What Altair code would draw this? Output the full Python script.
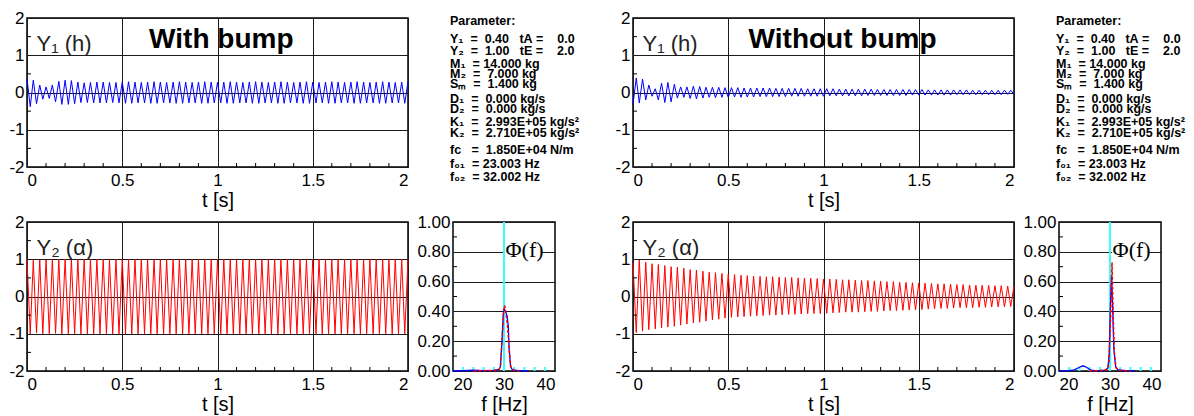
import altair as alt
import pandas as pd

FONT = "Liberation Sans"

# ---------------- data ----------------
# time of each half-oscillation extremum [s]
T = [0.000, 0.017, 0.033, 0.050, 0.067, 0.083,
     0.100, 0.117, 0.133, 0.150, 0.167, 0.183,
     0.200, 0.217, 0.233, 0.250, 0.267, 0.283,
     0.300, 0.317, 0.333, 0.350, 0.367, 0.383,
     0.400, 0.417, 0.433, 0.450, 0.467, 0.483,
     0.500, 0.517, 0.533, 0.550, 0.567, 0.583,
     0.600, 0.617, 0.633, 0.650, 0.667, 0.683,
     0.700, 0.717, 0.733, 0.750, 0.767, 0.783,
     0.800, 0.817, 0.833, 0.850, 0.867, 0.883,
     0.900, 0.917, 0.933, 0.950, 0.967, 0.983,
     1.000, 1.017, 1.033, 1.050, 1.067, 1.083,
     1.100, 1.117, 1.133, 1.150, 1.167, 1.183,
     1.200, 1.217, 1.233, 1.250, 1.267, 1.283,
     1.300, 1.317, 1.333, 1.350, 1.367, 1.383,
     1.400, 1.417, 1.433, 1.450, 1.467, 1.483,
     1.500, 1.517, 1.533, 1.550, 1.567, 1.583,
     1.600, 1.617, 1.633, 1.650, 1.667, 1.683,
     1.700, 1.717, 1.733, 1.750, 1.767, 1.783,
     1.800, 1.817, 1.833, 1.850, 1.867, 1.883,
     1.900, 1.917, 1.933, 1.950, 1.967, 1.983,
     2.000]

Y1_BUMP = [0.37, -0.38, 0.33, -0.30, 0.20, -0.18,
           0.15, -0.16, 0.20, -0.25, 0.30, -0.32,
           0.33, -0.32, 0.32, -0.30, 0.28, -0.27,
           0.26, -0.27, 0.27, -0.28, 0.28, -0.28,
           0.28, -0.28, 0.27, -0.27, 0.27, -0.28,
           0.28, -0.29, 0.29, -0.29, 0.28, -0.28,
           0.27, -0.28, 0.28, -0.29, 0.29, -0.29,
           0.28, -0.28, 0.27, -0.28, 0.28, -0.29,
           0.29, -0.29, 0.28, -0.28, 0.27, -0.28,
           0.28, -0.29, 0.29, -0.29, 0.28, -0.28,
           0.27, -0.28, 0.28, -0.29, 0.29, -0.29,
           0.28, -0.28, 0.27, -0.28, 0.28, -0.29,
           0.29, -0.29, 0.28, -0.28, 0.27, -0.28,
           0.28, -0.29, 0.29, -0.29, 0.28, -0.28,
           0.27, -0.28, 0.28, -0.29, 0.29, -0.29,
           0.28, -0.28, 0.27, -0.28, 0.28, -0.29,
           0.29, -0.29, 0.28, -0.28, 0.27, -0.28,
           0.28, -0.29, 0.29, -0.29, 0.28, -0.28,
           0.27, -0.28, 0.28, -0.29, 0.29, -0.29,
           0.28, -0.28, 0.27, -0.28, 0.28, -0.29,
           0.29]

Y2_BUMP = [1.00, -1.00, 0.97, -0.98, 0.99, -1.00,
           0.98, -1.00, 1.00, -0.99, 1.00, -1.00,
           1.00, -1.00, 1.00, -1.00, 1.00, -1.00,
           1.00, -1.00, 1.00, -1.00, 1.00, -1.00,
           1.00, -1.00, 1.00, -1.00, 1.00, -1.00,
           1.00, -1.00, 1.00, -1.00, 1.00, -1.00,
           1.00, -1.00, 1.00, -1.00, 1.00, -1.00,
           1.00, -1.00, 1.00, -1.00, 1.00, -1.00,
           1.00, -1.00, 1.00, -1.00, 1.00, -1.00,
           1.00, -1.00, 1.00, -1.00, 1.00, -1.00,
           1.00, -1.00, 1.00, -1.00, 1.00, -1.00,
           1.00, -1.00, 1.00, -1.00, 1.00, -1.00,
           1.00, -1.00, 1.00, -1.00, 1.00, -1.00,
           1.00, -1.00, 1.00, -1.00, 1.00, -1.00,
           1.00, -1.00, 1.00, -1.00, 1.00, -1.00,
           1.00, -1.00, 1.00, -1.00, 1.00, -1.00,
           1.00, -1.00, 1.00, -1.00, 1.00, -1.00,
           1.00, -1.00, 1.00, -1.00, 1.00, -1.00,
           1.00, -1.00, 1.00, -1.00, 1.00, -1.00,
           1.00, -1.00, 1.00, -1.00, 1.00, -1.00,
           1.00]

Y1_FREE = [-0.32, 0.39, -0.28, 0.36, -0.20, 0.20,
           -0.10, 0.10, -0.20, 0.25, -0.27, 0.27,
           -0.25, 0.22, -0.15, 0.15, -0.13, 0.15,
           -0.16, 0.17, -0.17, 0.16, -0.15, 0.14,
           -0.13, 0.14, -0.14, 0.14, -0.13, 0.13,
           -0.13, 0.13, -0.12, 0.13, -0.13, 0.12,
           -0.12, 0.12, -0.12, 0.12, -0.11, 0.12,
           -0.11, 0.12, -0.11, 0.11, -0.11, 0.11,
           -0.11, 0.11, -0.10, 0.11, -0.10, 0.11,
           -0.10, 0.10, -0.10, 0.10, -0.10, 0.10,
           -0.10, 0.10, -0.09, 0.10, -0.09, 0.09,
           -0.09, 0.09, -0.09, 0.09, -0.09, 0.09,
           -0.09, 0.09, -0.08, 0.09, -0.08, 0.08,
           -0.08, 0.08, -0.08, 0.08, -0.08, 0.08,
           -0.08, 0.08, -0.08, 0.08, -0.07, 0.08,
           -0.07, 0.08, -0.07, 0.07, -0.07, 0.07,
           -0.07, 0.07, -0.07, 0.07, -0.07, 0.07,
           -0.06, 0.07, -0.06, 0.07, -0.06, 0.06,
           -0.06, 0.06, -0.06, 0.06, -0.06, 0.06,
           -0.06, 0.06, -0.06, 0.06, -0.05, 0.06,
           -0.05]

Y2_FREE = [0.90, -0.97, 0.98, -0.93, 0.92, -0.89,
           0.88, -0.87, 0.86, -0.84, 0.83, -0.82,
           0.80, -0.80, 0.79, -0.77, 0.76, -0.74,
           0.72, -0.71, 0.71, -0.69, 0.68, -0.66,
           0.65, -0.63, 0.64, -0.61, 0.62, -0.58,
           0.60, -0.56, 0.59, -0.55, 0.57, -0.54,
           0.56, -0.53, 0.55, -0.52, 0.54, -0.51,
           0.53, -0.50, 0.53, -0.50, 0.52, -0.49,
           0.51, -0.48, 0.51, -0.48, 0.50, -0.47,
           0.49, -0.46, 0.49, -0.46, 0.48, -0.46,
           0.47, -0.45, 0.47, -0.44, 0.46, -0.43,
           0.45, -0.42, 0.45, -0.42, 0.44, -0.42,
           0.43, -0.41, 0.43, -0.40, 0.42, -0.40,
           0.41, -0.39, 0.40, -0.38, 0.40, -0.38,
           0.38, -0.37, 0.38, -0.36, 0.37, -0.36,
           0.36, -0.35, 0.36, -0.34, 0.35, -0.33,
           0.34, -0.32, 0.34, -0.32, 0.33, -0.31,
           0.32, -0.30, 0.32, -0.30, 0.31, -0.30,
           0.30, -0.29, 0.30, -0.29, 0.30, -0.28,
           0.29, -0.28, 0.29, -0.28, 0.28, -0.27,
           0.28]

# spectra
F_BUMP_BLUE = [20, 22, 24, 26, 28, 29, 29.3, 29.6, 29.85, 30.05, 30.3, 30.6, 30.85, 31.0, 31.3, 31.6, 32, 33, 34.6]
P_BUMP_BLUE = [0.0, 0.003, 0.005, 0.003, 0.004, 0.01, 0.03, 0.2, 0.38, 0.42, 0.40, 0.37, 0.30, 0.15, 0.03, 0.01, 0.005, 0.003, 0.0]
F_BUMP_RED = [24, 26, 28, 29, 29.3, 29.65, 29.95, 30.15, 30.4, 30.7, 31.0, 31.3, 32, 33]
P_BUMP_RED = [0.0, 0.002, 0.004, 0.01, 0.03, 0.22, 0.41, 0.44, 0.38, 0.30, 0.15, 0.03, 0.005, 0.0]

F_FREE_BLUE = [20, 22, 23, 24, 24.7, 25.4, 26.3, 27, 28, 29, 29.6, 29.85, 30.05, 30.3, 30.5, 30.75, 31.1, 31.5, 32, 33, 34.8]
P_FREE_BLUE = [0.0, 0.003, 0.008, 0.025, 0.035, 0.025, 0.005, 0.002, 0.003, 0.005, 0.02, 0.12, 0.40, 0.64, 0.45, 0.15, 0.03, 0.01, 0.005, 0.003, 0.0]
F_FREE_RED = [26, 28, 29.5, 29.8, 30.1, 30.4, 30.6, 30.85, 31.2, 32, 34]
P_FREE_RED = [0.0, 0.003, 0.01, 0.06, 0.35, 0.73, 0.40, 0.12, 0.02, 0.005, 0.0]

F_MARK = [30]
F_SMALL_TICKS = [22, 24, 26, 28, 32, 34, 36, 38]

T_TICKS = [0, 0.5, 1, 1.5, 2]
T_MINOR = [0.1, 0.2, 0.3, 0.4, 0.6, 0.7, 0.8, 0.9, 1.1, 1.2, 1.3, 1.4, 1.6, 1.7, 1.8, 1.9]
Y_TICKS = [-2, -1, 0, 1, 2]
Y_MINOR = [-1.5, -0.5, 0.5, 1.5]
P_TICKS = [0, 0.2, 0.4, 0.6, 0.8, 1.0]
P_MINOR = [0.1, 0.3, 0.5, 0.7, 0.9]
F_TICKS = [20, 30, 40]

PARAM_LINES = [
    "Parameter:",
    "Y₁  =  0.40   tA =    0.0",
    "Y₂  =  1.00   tE =    2.0",
    "M₁  = 14.000 kg",
    "M₂  =  7.000 kg",
    "Sₘ  =  1.400 kg",
    "D₁  =  0.000 kg/s",
    "D₂  =  0.000 kg/s",
    "K₁  =  2.993E+05 kg/s²",
    "K₂  =  2.710E+05 kg/s²",
    "fc   =  1.850E+04 N/m",
    "f₀₁  = 23.003 Hz",
    "f₀₂  = 32.002 Hz",
]
PARAM_YOFF = [3, 21, 33, 46, 56, 66, 81, 91, 104, 115, 132, 146, 159]

# ---------------- layout ----------------
W, H = 381, 149
SW = 102
BLACK = "#000000"
PLAIN = "'' + datum.value"


def time_panel(vals, color, label, title=None, title_t=1.0):
    df = pd.DataFrame({"t": T, "y": vals})
    xs = alt.X("t:Q", scale=alt.Scale(domain=[0, 2], nice=False, zero=False),
               axis=alt.Axis(values=T_TICKS, labelExpr=PLAIN, title="t [s]", grid=True,
                             labelPadding=5, titlePadding=2, labelOverlap=False))
    ys = alt.Y("y:Q", scale=alt.Scale(domain=[-2, 2], nice=False, zero=False),
               axis=alt.Axis(values=Y_TICKS, labelExpr=PLAIN, title=None, grid=True, labelPadding=3,
                             labelOverlap=False))
    line = alt.Chart(df).mark_line(color=color, strokeWidth=1).encode(x=xs, y=ys)
    tx = alt.Chart(pd.DataFrame({"t": T_MINOR})).mark_rule(color=BLACK, strokeWidth=1).encode(
        x=xs, y=alt.value(H), y2=alt.value(H - 4))
    ty = alt.Chart(pd.DataFrame({"y": Y_MINOR})).mark_rule(color=BLACK, strokeWidth=1).encode(
        y=ys, x=alt.value(0), x2=alt.value(4))
    lab = alt.Chart(pd.DataFrame({"t": [0.05], "y": [1.12], "s": [label]})).mark_text(
        align="left", baseline="alphabetic", fontSize=22, font=FONT, color="#222222").encode(
        x=xs, y=ys, text="s:N")
    layers = [line, tx, ty, lab]
    if title:
        ttl = alt.Chart(pd.DataFrame({"t": [title_t], "y": [1.2], "s": [title]})).mark_text(
            align="center", baseline="alphabetic", fontSize=28, fontWeight="bold",
            font=FONT, color=BLACK).encode(x=xs, y=ys, text="s:N")
        layers.append(ttl)
    return alt.layer(*layers).properties(width=W, height=H)


def spec_panel(fb, pb, fr, pr, phi_f):
    xs = lambda fld: alt.X(fld, scale=alt.Scale(domain=[20, 40], nice=False, zero=False),
                           axis=alt.Axis(values=F_TICKS, format="d", title="f  [Hz]", grid=False,
                                         labelPadding=5, titlePadding=2, labelOverlap=False))
    ys = lambda fld: alt.Y(fld, scale=alt.Scale(domain=[0, 1], nice=False, zero=False),
                           axis=alt.Axis(values=P_TICKS, format=".2f", title=None, grid=True,
                                         labelPadding=3, labelOverlap=False))
    cyan = alt.Chart(pd.DataFrame({"f": F_MARK})).mark_rule(color="#33ffff", strokeWidth=2).encode(x=xs("f:Q"))
    cticks = alt.Chart(pd.DataFrame({"f": F_SMALL_TICKS})).mark_rule(color="#33ffff", strokeWidth=2).encode(
        x=xs("f:Q"), y=alt.value(H), y2=alt.value(H - 4))
    mticks = alt.Chart(pd.DataFrame({"p": P_MINOR})).mark_rule(color=BLACK, strokeWidth=1).encode(
        y=ys("p:Q"), x=alt.value(0), x2=alt.value(4))
    blue = alt.Chart(pd.DataFrame({"f": fb, "p": pb})).mark_line(color="#0000ff", strokeWidth=1.3).encode(
        x=xs("f:Q"), y=ys("p:Q"))
    red = alt.Chart(pd.DataFrame({"f": fr, "p": pr})).mark_line(
        color="#ff0000", strokeWidth=1.5, strokeDash=[3, 2]).encode(x=xs("f:Q"), y=ys("p:Q"))
    box = alt.Chart(pd.DataFrame({"f": [phi_f - 0.1], "f2": [phi_f + 6.9], "p": [0.74], "p2": [0.89]})).mark_rect(
        color="white").encode(x=xs("f:Q"), x2="f2:Q", y=ys("p:Q"), y2="p2:Q")
    phi = alt.Chart(pd.DataFrame({"f": [phi_f], "p": [0.81], "s": ["Φ(f)"]})).mark_text(
        align="left", baseline="middle", fontSize=22, font="Liberation Serif", color=BLACK).encode(
        x=xs("f:Q"), y=ys("p:Q"), text="s:N")
    return alt.layer(cyan, cticks, mticks, blue, red, box, phi).properties(width=SW, height=H)


def param_panel():
    layers = []
    for line, off in zip(PARAM_LINES, PARAM_YOFF):
        txt = line.replace(" ", "\u00a0")
        layers.append(
            alt.Chart(pd.DataFrame({"s": [txt]})).mark_text(
                align="left", baseline="middle", fontSize=12.5, fontWeight="bold",
                font=FONT, color=BLACK).encode(x=alt.value(-3), y=alt.value(off), text="s:N"))
    return alt.layer(*layers).properties(width=SW, height=H,
                                         view=alt.ViewBackground(stroke="transparent"))


def spacer(w):
    return alt.Chart(pd.DataFrame({"a": [0]})).mark_point(opacity=0).encode(
        x=alt.value(0), y=alt.value(0)).properties(
        width=w, height=H, view=alt.ViewBackground(stroke="transparent"))


spec_l = spec_panel(F_BUMP_BLUE, P_BUMP_BLUE, F_BUMP_RED, P_BUMP_RED, 30.3)
spec_r = spec_panel(F_FREE_BLUE, P_FREE_BLUE, F_FREE_RED, P_FREE_RED, 30.5)

cells = [
    time_panel(Y1_BUMP, "#0000ff", "Y₁ (h)", "With bump", 1.02), spacer(45), param_panel(), spacer(78),
    time_panel(Y1_FREE, "#0000ff", "Y₁ (h)", "Without bump", 1.10), spacer(45), param_panel(),
    time_panel(Y2_BUMP, "#ff0000", "Y₂ (α)"), spacer(45), spec_l, spacer(78),
    time_panel(Y2_FREE, "#ff0000", "Y₂ (α)"), spacer(45), spec_r,
]

chart = alt.concat(*cells, columns=7, spacing={"row": 55, "column": 0}, bounds="flush").properties(
    padding={"left": 8, "top": 8, "right": 2, "bottom": 2}
).configure_view(stroke=BLACK, strokeWidth=1.5).configure_axis(
    labelFont=FONT, titleFont=FONT, labelFontSize=17, titleFontSize=20,
    titleFontWeight="normal", labelColor=BLACK, titleColor=BLACK,
    gridColor="#1a1a1a", gridWidth=1, domain=False, ticks=False
)

chart.save("out.html", embed_options={"renderer": "svg", "actions": False})
